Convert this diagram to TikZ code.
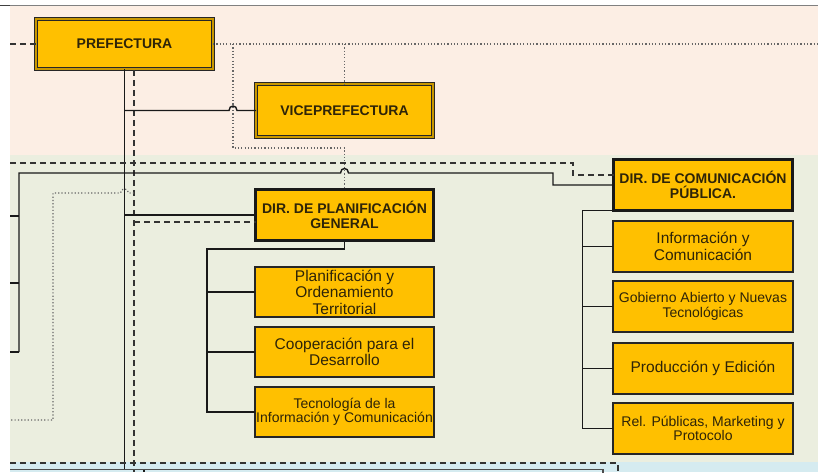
\documentclass[tikz,border=0pt]{standalone}
\usepackage{fontspec}
\setmainfont{Liberation Sans}
\definecolor{peach}{HTML}{FCEEE4}
\definecolor{sage}{HTML}{EBEEDF}
\definecolor{skyb}{HTML}{D5EBF0}
\definecolor{orgfill}{HTML}{FFC000}
\definecolor{boxln}{HTML}{262626}
\definecolor{txtc}{HTML}{2E2408}
\definecolor{dblc}{HTML}{C99700}
\begin{document}
\begin{tikzpicture}[x=1pt,y=-1pt,
  box/.style={draw=boxln, fill=orgfill, line width=1.3pt, inner sep=0pt, outer sep=0pt,
    align=center, text=txtc, anchor=north west},
  topbox/.style={box, double=dblc, double distance=1.4pt, line width=1.1pt,
    font=\bfseries\fontsize{14pt}{15pt}\selectfont},
  dirbox/.style={box, line width=2.6pt, draw=black!90, font=\bfseries\fontsize{14pt}{14.5pt}\selectfont},
  bigtxt/.style={font=\fontsize{15.5pt}{16.5pt}\selectfont},
  smtxt/.style={font=\fontsize{14pt}{14.5pt}\selectfont},
  conn/.style={line width=1.4pt, draw=black!90},
  dsh/.style={line width=1.4pt, draw=black!80, dash pattern=on 6pt off 4pt},
  dotl/.style={line width=1.2pt, draw=black!60, dash pattern=on 1.2pt off 2.1pt}]
\useasboundingbox (0,0) rectangle (818,472);
% backgrounds
\fill[white] (0,0) rectangle (818,472);
\fill[peach] (10,6) rectangle (818,155);
\fill[sage] (10,155) rectangle (818,462);
\fill[skyb] (10,462) rectangle (818,472);
\draw[black!50, line width=1pt] (0,5.5) -- (818,5.5);
\draw[black!75, line width=1.6pt] (0,5.5) -- (10,5.5);

% boxes
\node[topbox, minimum width=177pt, minimum height=50pt] (pref) at (36,19) {PREFECTURA};
\node[topbox, minimum width=177pt, minimum height=53pt] (vice) at (256,84) {VICEPREFECTURA};
\node[dirbox, minimum width=178pt, minimum height=51pt] (planif) at (255.5,189.5) {DIR. DE PLANIFICACIÓN\\GENERAL};
\node[dirbox, minimum width=179pt, minimum height=51pt] (dircom) at (613.5,159.5) {DIR. DE COMUNICACIÓN\\PÚBLICA.};
\node[box, bigtxt, minimum width=179pt, minimum height=50pt] (plan) at (255,267) {Planificación y\\Ordenamiento\\Territorial};
\node[box, bigtxt, minimum width=179pt, minimum height=50pt] (coop) at (255,327) {Cooperación para el\\Desarrollo};
\node[box, smtxt, minimum width=179pt, minimum height=50pt] (tec) at (255,387) {Tecnología de la\\Información y Comunicación};
\node[box, bigtxt, minimum width=180pt, minimum height=51pt] (info) at (613,221) {Información y\\Comunicación};
\node[box, smtxt, minimum width=180pt, minimum height=51pt] (gob) at (613,281) {Gobierno Abierto y Nuevas\\Tecnológicas};
\node[box, bigtxt, minimum width=180pt, minimum height=51pt] (prod) at (613,343) {Producción y Edición};
\node[box, smtxt, minimum width=180pt, minimum height=51pt] (rel) at (613,403) {Rel. Públicas, Marketing y\\Protocolo};

% free ends
\coordinate (lA) at (10,44);
\coordinate (rA) at (818,44);
\coordinate (solidEnd) at (124.5,469);
\coordinate (dashTop) at (134,70);
\coordinate (dashEnd) at (134,472);

% top connectors
\draw[dsh] (lA) -- (pref.west);
\draw[dotl] (pref.east) -- (rA);
\draw[dotl] (233,44) -- (233,148) -- (344.5,148) -- (planif.north);
\draw[dotl] (vice.north |- rA) -- (vice.north);
\draw[conn] (pref.south) -- (solidEnd);
\draw[dsh] (dashTop) -- (dashEnd);
\draw[conn] (124.5,110.5) -- (229,110.5) .. controls (229,104.5) and (237,104.5) .. (237,110.5) -- (vice.west);

% middle connectors
\draw[dsh] (10,163) -| (573,175) -- ([yshift=10pt]dircom.west);
\draw[conn] (19,352) -- (19,173) -- (340.5,173) .. controls (340.5,167) and (348.5,167) .. (348.5,173)
  -- (553,173) -- (553,185) -- (dircom.west);
\draw[conn] (10,216) -- (19,216);
\draw[conn] (10,283) -- (19,283);
\draw[conn] (10,352) -- (19,352);
\draw[dotl] (134,193) -- (128.5,193) .. controls (128.5,187.5) and (120.5,187.5) .. (120.5,193)
  -- (53,193) -- (53,420) -- (10,420);
\draw[conn] (124.5,215) -- (planif.west);
\draw[dsh] (134,222) -- ([yshift=-7pt]planif.west);

% planificacion tree
\draw[conn] (planif.south) -- (344.5,249) -- (207,249) |- (tec.west);
\draw[conn] (plan.west) -- ++(-48,0);
\draw[conn] (coop.west) -- ++(-48,0);

% comunicacion tree
\draw[conn] (dircom.south west) -- ++(-31,0) |- (rel.west);
\draw[conn] (info.west) -- ++(-31,0);
\draw[conn] (gob.west) -- ++(-31,0);
\draw[conn] (prod.west) -- ++(-31,0);

% bottom
\draw[dsh] (10,463) -| (618,472);
\draw[line width=1.2pt, draw=black!70] (10,469.5) -- (603,469.5) -- (603,474);
\draw[conn] (144,469.5) -- (144,472);
\end{tikzpicture}
\end{document}
